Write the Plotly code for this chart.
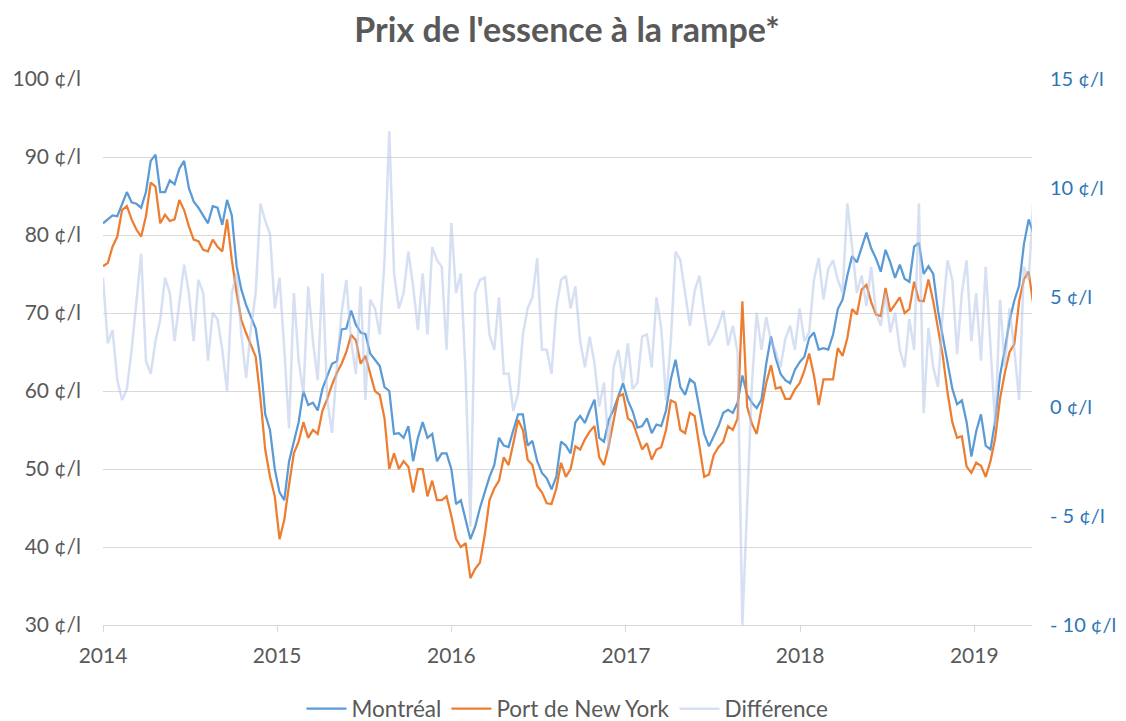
import pandas as pd
import plotly.graph_objects as go

# ---- data (10-day sampling) ----
montreal = [81.5, 82, 82.5, 82.4, 84, 85.5, 84.2, 84, 83.5, 85.5,
            89.5, 90.3, 85.5, 85.5, 87, 86.5, 88.5, 89.5, 86, 84.3,
            83.5, 82.5, 81.5, 83.7, 83.5, 81.3, 84.5, 82.5, 76, 73,
            71, 69.5, 68, 64, 57, 55, 50, 47, 46, 51,
            53.5, 56, 60, 58.2, 58.5, 57.5, 60.3, 62, 63.5, 63.8,
            67.9, 68, 70.3, 68.5, 67.5, 67.3, 64.8, 64, 63.2, 60.5,
            60, 54.5, 54.6, 54, 55.5, 51, 54, 56, 54, 54.5,
            51, 52, 52, 50, 45.5, 46, 43.5, 41, 42.6, 45,
            47, 49, 50.5, 54, 53, 52.8, 55, 57, 57, 53,
            53.6, 51, 49.5, 48.8, 47.4, 49, 53.5, 53, 52, 56,
            56.8, 55.9, 57.5, 58.9, 54, 53.5, 56.3, 57.6, 59.3, 61,
            58.8, 57.4, 55.3, 55.5, 56.5, 54.6, 55.7, 55.5, 57.5, 61.5,
            64, 60.5, 59.5, 61.5, 61, 57.8, 54.5, 52.9, 54.3, 55.5,
            57.2, 57.6, 57.2, 58.5, 62, 59.5, 58.5, 57.8, 58.9, 63.5,
            67, 64.2, 62.2, 61.4, 61, 62.7, 63.7, 64.4, 66.8, 67.5,
            65.3, 65.5, 65.3, 67.2, 70.5, 71.7, 74.8, 77.3, 76.5, 78.5,
            80.3, 78.3, 77, 75.3, 78.1, 76.5, 74.5, 76.2, 74.4, 74,
            78.5, 79, 75, 76, 75, 70.3, 67, 63.8, 60.3, 58.3,
            58.8, 56, 51.6, 54.8, 57, 53, 52.5, 56.2, 62, 65.3,
            69, 71.6, 73.5, 78.8, 82, 80.2]

new_york = [76, 76.4, 78.5, 79.8, 83.2, 83.7, 82, 80.7, 79.8, 82.4,
            86.7, 86.2, 81.5, 82.6, 81.8, 82, 84.5, 83.2, 81.1, 79.4,
            79.2, 78.1, 77.9, 79.4, 78.5, 77.9, 82, 76.8, 72.6, 69.1,
            67.4, 65.8, 64.4, 59, 52.5, 49, 46.5, 41, 43.5, 48,
            52, 53.5, 56, 54, 55, 54.5, 57.5, 59, 60.8, 62.3,
            63.5, 65, 67.2, 66.5, 63.5, 64.5, 62.3, 60, 59.5, 56.5,
            50, 52, 50, 51, 50.3, 47, 50, 50, 46.5, 48.5,
            46, 46, 46.5, 44, 41, 40, 40.5, 36, 37.2, 38,
            41.5, 46, 47.5, 48.5, 51.5, 50.5, 53.3, 56.3, 55, 51.2,
            50.5, 47.8, 47, 45.6, 45.5, 47.5, 50.8, 49, 50, 52.9,
            52.5, 53.8, 54.8, 55.5, 51.5, 50.5, 53, 56.3, 59.3, 59.6,
            56.5, 56, 54.2, 52.5, 53.3, 51.2, 52.5, 52.8, 55, 58.8,
            58.5, 55, 54.6, 57.2, 56.8, 53, 49, 49.3, 51.8, 52.8,
            53.5, 55.5, 55, 56.5, 71.5, 58, 55.8, 54.5, 57.6, 61,
            63.3, 60.3, 60.5, 59, 59, 60.2, 61, 62.6, 64.8, 62,
            58.2, 61.5, 61.5, 61.5, 65.5, 64.5, 66.8, 70.5, 69.8, 73,
            73.6, 71.4, 69.8, 69.6, 73.2, 70.2, 71.1, 72, 70, 70.5,
            74, 71.6, 71.5, 74.3, 71.5, 67.8, 64.5, 59.8, 56, 54,
            54.2, 50.3, 49.5, 50.8, 50.4, 49, 51, 54, 59, 62.3,
            65, 66, 71.5, 74.3, 75.3, 71]

difference = [5.9, 2.9, 3.5, 1.2, 0.3, 0.8, 2.6, 4.8, 7.0, 2.1,
              1.5, 3.0, 4.0, 5.9, 5.2, 3.0, 4.9, 6.5, 5.2, 3.0,
              5.8, 5.2, 2.1, 4.3, 4.0, 2.6, 0.7, 5.2, 6.1, 3.3,
              1.3, 3.6, 5.2, 9.3, 8.5, 7.9, 4.5, 5.9, 2.6, -1.0,
              5.2, 2.1, 0.6, 5.5, 3.0, 1.2, 6.1, 0.3, -1.2, 1.8,
              4.3, 5.8, 3.0, 1.5, 5.5, 0.3, 4.9, 4.5, 3.3, 6.7,
              12.6, 6.1, 4.5, 5.2, 7.1, 5.5, 3.5, 6.1, 3.3, 7.3,
              6.7, 6.4, 2.6, 8.4, 5.2, 6.1, 1.5, -5.5, 5.2, 5.8,
              5.9, 3.3, 2.6, 5.0, 1.5, 1.5, -0.2, 0.6, 3.3, 4.5,
              5.0, 6.8, 2.6, 2.6, 1.5, 4.5, 5.8, 6.0, 4.5, 5.5,
              3.0, 1.8, 3.2, 2.0, 0.0, 1.1, -2.0, 1.8, 2.6, 1.1,
              2.9, 0.8, 1.1, 3.2, 3.3, 1.8, 5.0, 3.6, 0.3, 3.0,
              7.1, 6.7, 5.2, 3.7, 5.3, 6.0, 4.3, 2.8, 3.2, 3.7,
              4.4, 2.8, 3.7, 2.5, -10.0, -4.2, 1.0, 4.3, 2.6, 4.1,
              3.0, 2.5, 1.8, 3.1, 3.7, 2.6, 4.5, 3.0, 3.4, 5.8,
              6.8, 4.9, 6.3, 6.7, 5.8, 5.2, 9.3, 7.3, 5.2, 6.0,
              4.6, 6.4, 4.3, 3.7, 5.2, 3.4, 4.3, 2.6, 1.8, 4.0,
              2.6, 9.3, -0.3, 3.6, 1.8, 0.9, 4.3, 6.7, 5.8, 2.4,
              5.2, 6.7, 3.0, 5.2, 2.1, 6.4, 2.6, -0.9, 4.9, 1.8,
              4.5, 2.6, 0.3, 6.4, 5.8, 9.5]

dates = pd.date_range("2014-01-01", periods=len(montreal), freq="10D")

year_ticks = ["2014-01-01", "2015-01-01", "2016-01-01", "2017-01-01", "2018-01-01", "2019-01-01"]
year_labels = ["2014", "2015", "2016", "2017", "2018", "2019"]
left_vals = [30, 40, 50, 60, 70, 80, 90, 100]
left_labels = ["30 ¢/l", "40 ¢/l", "50 ¢/l", "60 ¢/l", "70 ¢/l", "80 ¢/l", "90 ¢/l", "100 ¢/l"]
right_vals = [-10, -5, 0, 5, 10, 15]
right_labels = ["- 10 ¢/l", "- 5 ¢/l", "0 ¢/l", "5 ¢/l", "10 ¢/l", "15 ¢/l"]

FONT = "Lato"
GREY = "#595959"
GRID = "#D9D9D9"

fig = go.Figure()
fig.add_trace(go.Scatter(x=dates, y=montreal, name="Montréal", mode="lines",
                         line=dict(color="#5B9BD5", width=2.25)))
fig.add_trace(go.Scatter(x=dates, y=new_york, name="Port de New York", mode="lines",
                         line=dict(color="#ED7D31", width=2.25)))
fig.add_trace(go.Scatter(x=dates, y=difference, name="Différence", mode="lines", yaxis="y2",
                         line=dict(color="rgba(180,199,231,0.55)", width=2.5)))

# page body has an 8px margin: size the figure so that it fills the 1126x721 window
fig.update_layout(
    width=1118, height=713,
    paper_bgcolor="white", plot_bgcolor="white",
    margin=dict(l=95, r=94, t=71, b=96, autoexpand=False),
    font=dict(family=FONT, color=GREY, size=21),
    title=dict(text="<b>Prix de l'essence à la rampe*</b>", x=0.5, xref="container", xanchor="center",
               y=1.0, yanchor="top", pad=dict(t=10),
               font=dict(family=FONT, size=34, color=GREY)),
    xaxis=dict(type="date", range=["2014-01-01", "2019-05-02"], tickvals=year_ticks, ticktext=year_labels,
               showgrid=False, showline=True, linecolor=GRID, linewidth=1, automargin=False,
               ticks="outside", ticklen=6, tickcolor=GRID, tickfont=dict(size=21, color=GREY),
               ticklabelstandoff=6, zeroline=False),
    yaxis=dict(range=[30, 100], tickvals=left_vals, ticktext=left_labels, showgrid=True, automargin=False,
               gridcolor=GRID, gridwidth=1, zeroline=False, showline=False, ticks="",
               tickfont=dict(size=21, color=GREY), ticklabelstandoff=21),
    yaxis2=dict(range=[-10, 15], tickvals=right_vals, ticktext=right_labels, overlaying="y", side="right",
                showgrid=False, zeroline=False, showline=False, ticks="", automargin=False,
                tickfont=dict(size=20, color="#2E75B6"), ticklabelstandoff=17),
    legend=dict(orientation="h", x=0.5, xanchor="center", y=-0.154, yanchor="middle",
                font=dict(size=22.5, color=GREY), itemwidth=40, traceorder="normal"),
    showlegend=True,
)

fig.write_html("out.html")
